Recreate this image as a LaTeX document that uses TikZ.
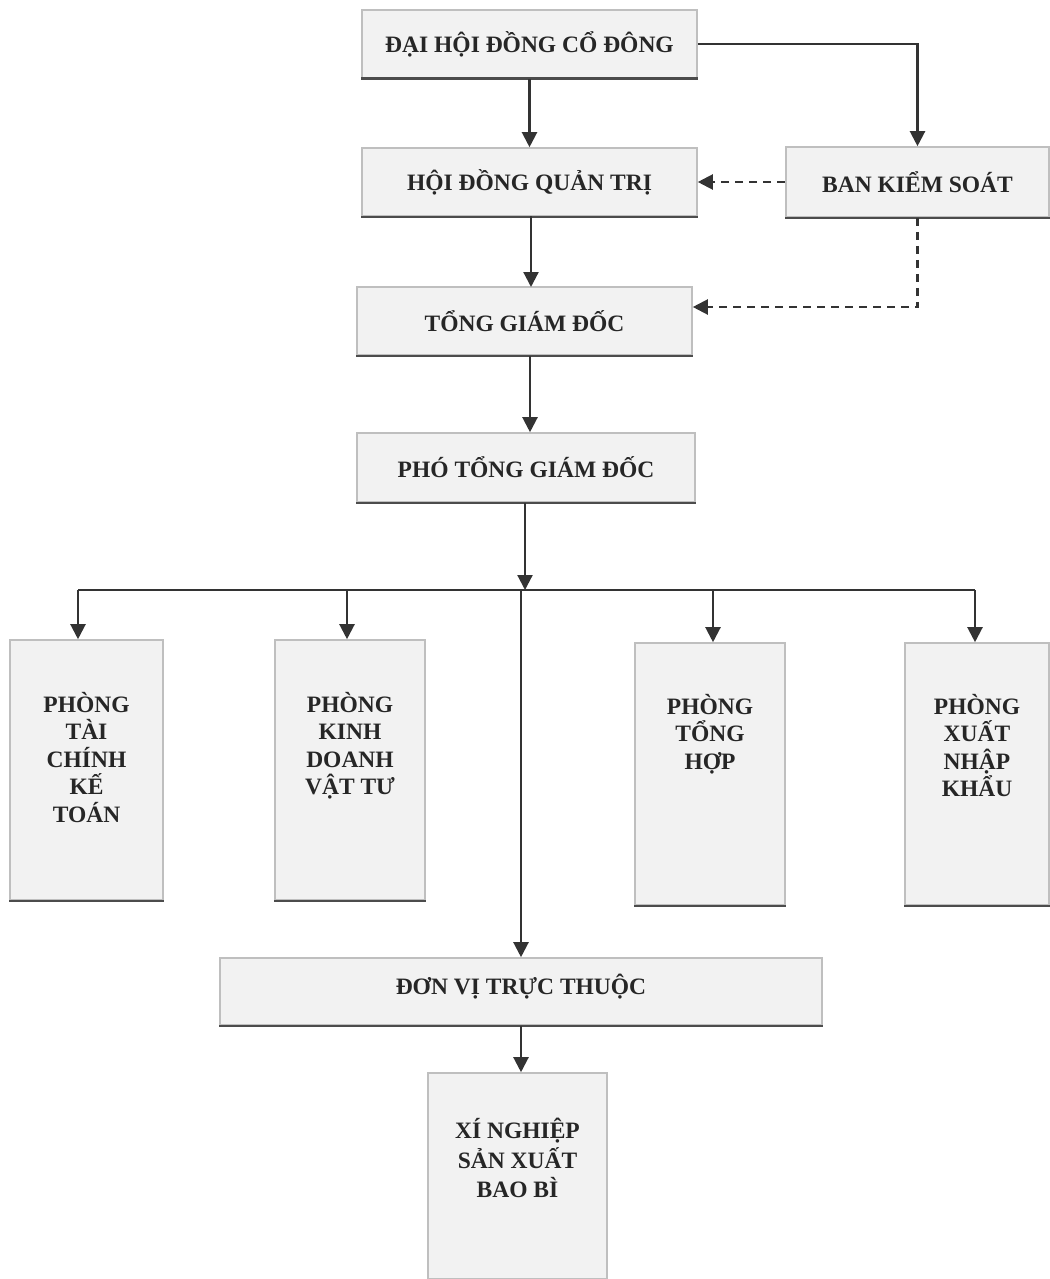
\documentclass[tikz,border=0pt]{standalone}
\usepackage{fontspec}
\setmainfont{Liberation Serif}
\usetikzlibrary{arrows.meta,calc}
\begin{document}
\begin{tikzpicture}[x=1pt,y=-1pt,
  box/.style={draw=gray!50, line width=1.6pt, fill=gray!10, inner sep=0pt, font=\fontsize{23.5}{27.5}\selectfont\bfseries, text=black!85},
  lbl/.style={font=\fontsize{23.5}{27.5}\selectfont\bfseries, text=black!85, align=center, inner sep=0pt, anchor=north},
  edgeb/.style={draw=black!70, line width=2.6pt},
  conn/.style={draw=black!80, line width=2.2pt, -{Triangle[width=15pt,length=15pt]}},
  dconn/.style={draw=black!80, line width=2.2pt, dash pattern=on 8pt off 6pt, -{Triangle[width=15pt,length=15pt]}},
  plain/.style={draw=black!80, line width=2.2pt}]
\useasboundingbox (0,0) rectangle (1049,1279);
% boxes
\node[box, minimum width=335pt, minimum height=68pt] (dh) at (529.5,44) {ĐẠI HỘI ĐỒNG CỔ ĐÔNG};
\node[box, minimum width=335pt, minimum height=68pt] (hd) at (529.5,182) {HỘI ĐỒNG QUẢN TRỊ};
\node[box, minimum width=263pt, minimum height=70pt] (bk) at (917.5,182) {BAN KIỂM SOÁT};
\node[box, minimum width=335pt, minimum height=68pt] (tg) at (524.5,321) {TỔNG GIÁM ĐỐC};
\node[box, minimum width=338pt, minimum height=69pt] (pt) at (526,467.5) {PHÓ TỔNG GIÁM ĐỐC};
\node[box, minimum width=153pt, minimum height=260pt] (p1) at (86.5,770) {};
\node[box, minimum width=150pt, minimum height=260pt] (p2) at (350,770) {};
\node[box, minimum width=150pt, minimum height=262pt] (p3) at (710,774) {};
\node[box, minimum width=144pt, minimum height=262pt] (p4) at (977,774) {};
\node[box, minimum width=602pt, minimum height=67pt, text depth=14pt] (dv) at (521,991.5) {ĐƠN VỊ TRỰC THUỘC};
\node[box, minimum width=179pt, minimum height=206pt] (xn) at (517.5,1176) {};
% labels in tall boxes
\node[lbl] (l1) at (86.5,692) {PHÒNG\\TÀI\\CHÍNH\\KẾ\\TOÁN};
\node[lbl] (l2) at (350,692) {PHÒNG\\KINH\\DOANH\\VẬT TƯ};
\node[lbl] (l3) at (710,694) {PHÒNG\\TỔNG\\HỢP};
\node[lbl] (l4) at (977,694) {PHÒNG\\XUẤT\\NHẬP\\KHẨU};
\node[lbl, font=\fontsize{23.5}{29.5}\selectfont\bfseries] (l5) at (517.5,1118) {XÍ NGHIỆP\\SẢN XUẤT\\BAO BÌ};
% dark bottom edges
\foreach \n in {dh,hd,bk,tg,pt,p1,p2,p3,p4,dv}
  \draw[edgeb] (\n.south west) -- (\n.south east);
% connectors
\coordinate (bus) at (525,590);
\coordinate (busL) at (78,590);
\coordinate (busR) at (975,590);
\draw[conn] (dh.south) -- (hd.north);
\draw[conn] (dh.east) -| (bk.north);
\draw[dconn] (bk.west) -- (hd.east);
\draw[dconn] (bk.south) |- ($(tg.east)+(0,-14)$);
\draw[conn] (531,216) -- (531,287);
\draw[conn] (tg.south -| 530,0) -- (pt.north -| 530,0);
\draw[conn] (pt.south -| bus) -- (bus);
\draw[plain] (busL) -- (busR);
\draw[conn] (busL) -- (p1.north -| busL);
\draw[conn] (347,590) -- (p2.north -| 347,0);
\draw[conn] (713,590) -- (p3.north -| 713,0);
\draw[conn] (busR) -- (p4.north -| busR);
\draw[conn] (521,590) -- (dv.north -| 521,0);
\draw[conn] (dv.south -| 521,0) -- (xn.north -| 521,0);
\end{tikzpicture}
\end{document}
